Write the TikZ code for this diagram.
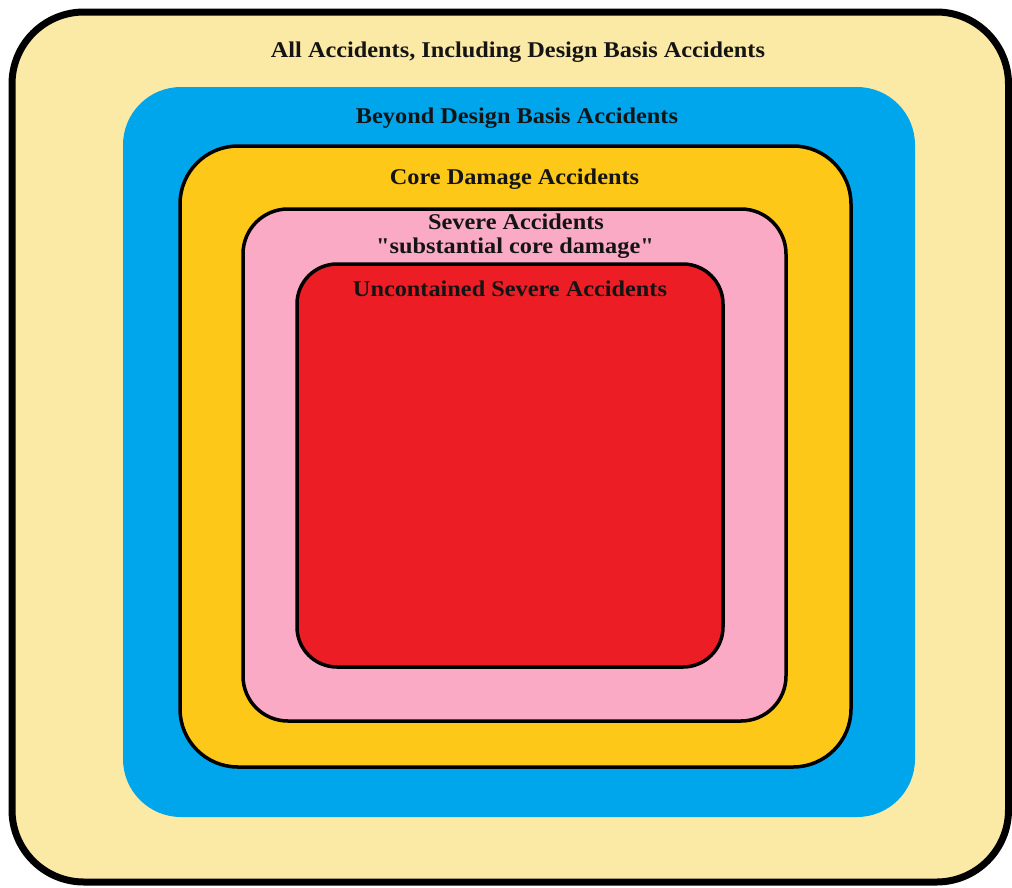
\documentclass[tikz,border=0pt]{standalone}
\usepackage{fontspec}
\setmainfont{Liberation Serif}[FakeStretch=1.08]
\newfontfamily\lblfont{Liberation Serif}[FakeStretch=1.08]
\definecolor{creamc}{RGB}{251,233,166}
\definecolor{skyc}{RGB}{0,166,236}
\definecolor{goldc}{RGB}{253,200,24}
\definecolor{pinkc}{RGB}{250,170,196}
\definecolor{redc}{RGB}{236,29,36}
\begin{document}
\begin{tikzpicture}[x=1pt,y=-1pt,
  lbl/.style={font=\lblfont\fontsize{22.5}{24}\selectfont\bfseries, inner sep=0pt, anchor=base, text=black!92},
  ring/.style={draw=black, line width=3.5pt}]
\useasboundingbox (0,0) rectangle (1012,887);
% outer
\draw[line width=7pt, fill=creamc, rounded corners=72pt] (12,12) rectangle (1008.5,882);
% beyond design basis
\fill[skyc, rounded corners=58pt] (123,87) rectangle (915,817);
% core damage
\draw[ring, fill=goldc, rounded corners=58pt] (180,146) rectangle (851,767);
% severe
\draw[ring, fill=pinkc, rounded corners=45pt] (243,209) rectangle (786,721);
% uncontained
\draw[ring, fill=redc, rounded corners=40pt] (297,264) rectangle (723,667);
% labels
\node[lbl] (all) at (518,57.5) {All Accidents, Including Design Basis Accidents};
\node[lbl] (bdba) at (517,123) {Beyond Design Basis Accidents};
\node[lbl] (core) at (514.5,184) {Core Damage Accidents};
\node[lbl] (sev1) at (516,229) {Severe Accidents};
\node[lbl] (sev2) at (515,253) {"substantial core damage"};
\node[lbl] (unc) at (510,296) {Uncontained Severe Accidents};
\end{tikzpicture}
\end{document}
